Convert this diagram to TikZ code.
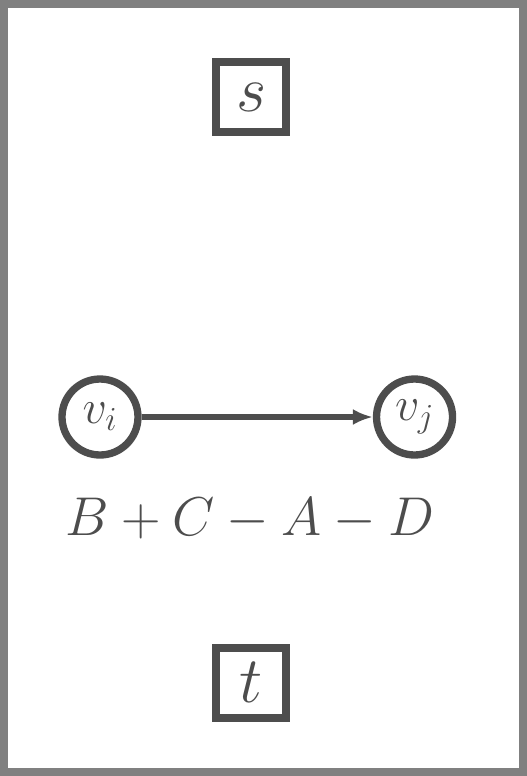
\documentclass[tikz,border=0pt]{standalone}
\usepackage{fix-cm}
\usetikzlibrary{shapes,arrows,arrows.meta,calc}
\definecolor{ink}{HTML}{4D4D4D}
\definecolor{frame}{HTML}{808080}
\tikzstyle{terminal} = [rectangle, draw=ink, line width=6pt,
    minimum size=52.5pt, inner sep=0pt, text=ink, font=\fontsize{49}{52}\selectfont]
\tikzstyle{vertex} = [circle, draw=ink, line width=5.5pt,
    minimum size=57pt, inner sep=0pt, text=ink, font=\fontsize{36}{39}\selectfont]
\tikzstyle{line} = [draw=ink, line width=4pt, -{Latex[length=15pt,width=12pt]}]

\begin{document}
\begin{tikzpicture}
  \useasboundingbox (0,0) rectangle (395.25pt,-582pt);
  \draw[frame, line width=6pt] (3pt,-3pt) rectangle (392.25pt,-579pt);

  % Place nodes
  \node [terminal] (source) at (188.6pt,-73.1pt) {$s$};

  \node [vertex] (vi) at (75pt,-312.75pt) {$v_i$};
  \node [vertex, right of=vi, node distance=235.9pt] (vj) {$v_j$};

  \node [anchor=base, text=ink, font=\fontsize{41}{45}\selectfont]
        (cost) at (187.5pt,-401.25pt) {$B+C-A-D$};

  \node [terminal] (sink) at (188.6pt,-511.9pt) {$t$};

  \path [line] (vi) -- (vj);
\end{tikzpicture}
\end{document}
